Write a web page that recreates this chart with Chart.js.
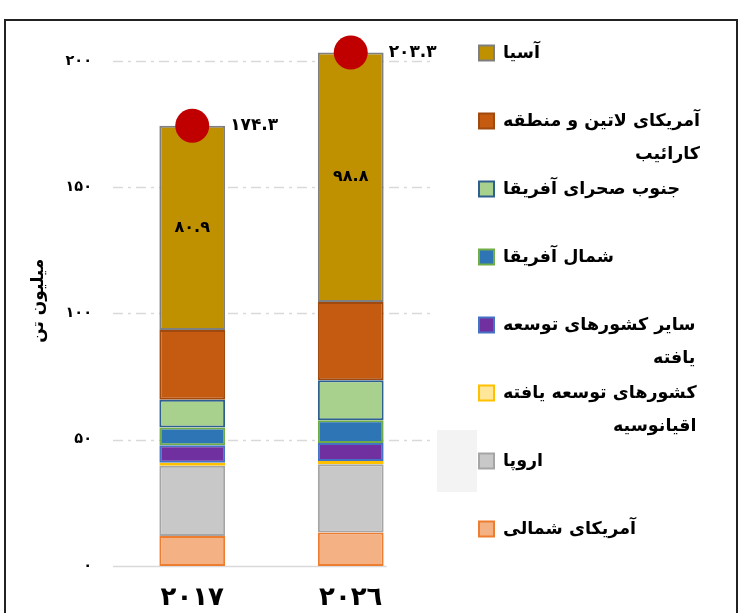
<!DOCTYPE html>
<html lang="fa">
<head>
<meta charset="utf-8">
<script src="https://cdn.jsdelivr.net/npm/chart.js@4.4.1/dist/chart.umd.min.js"></script>
<style>
  html, body { margin: 0; padding: 0; background: #fff; }
  #wrap { width: 740px; height: 613px; }
</style>
</head>
<body>
<div id="wrap"><canvas id="chart" width="740" height="613"></canvas></div>
<script>
// data (million tonnes)
const years = ['2017', '2026'];
const seriesNames = [
  'آمریکای شمالی',
  'اروپا',
  'کشورهای توسعه یافته اقیانوسیه',
  'سایر کشورهای توسعه یافته',
  'شمال آفریقا',
  'جنوب صحرای آفریقا',
  'آمریکای لاتین و منطقه کارائیب',
  'آسیا'
];
const northAmerica = [11.9, 13.3];
const europe = [27.8, 27.0];
const oceania = [1.2, 1.3];
const otherDeveloped = [6.9, 7.1];
const northAfrica = [7.0, 9.0];
const subSaharan = [11.0, 15.8];
const latinAmerica = [27.6, 31.0];
const asia = [80.9, 98.8];
const totals = [174.3, 203.3];
const yTicks = [0, 50, 100, 150, 200];

const FONT = '"DejaVu Sans", sans-serif';
const fa = s => String(s).replace(/[0-9]/g, d => '۰۱۲۳۴۵۶۷۸۹'[d]);
const ar = s => String(s).replace(/[0-9]/g, d => '٠١٢٣٤٥٦٧٨٩'[d]);

const fills = ['#F4B183', null, '#FFE699', '#7030A0', '#2E75B6', '#A9D18E', '#C55A11', '#BF9000'];
const borders = ['#ED7D31', '#A5A5A5', '#FFC000', '#4472C4', '#70AD47', '#2F5F8F', '#A04A10', '#7F7F7F'];
const values = [northAmerica, europe, oceania, otherDeveloped, northAfrica, subSaharan, latinAmerica, asia];

// grey gradient for europe
function europeFill(c) {
  const el = c.element;
  if (!c.chart.chartArea || !el || el.y === undefined) return '#C8C8C8';
  const g = c.chart.ctx.createLinearGradient(0, el.y, 0, el.base);
  g.addColorStop(0, '#D9D9D9');
  g.addColorStop(1, '#BDBDBD');
  return g;
}

const barSets = values.map((v, i) => ({
  label: seriesNames[i],
  data: v,
  backgroundColor: fills[i] || europeFill,
  borderColor: borders[i],
  borderWidth: 2,
  borderSkipped: false,
  barPercentage: 0.83,
  categoryPercentage: 0.5
}));

const frame = {
  id: 'frame',
  beforeDraw(chart) {
    const c = chart.ctx;
    c.save();
    c.fillStyle = '#f3f3f3';
    c.fillRect(437, 430, 40, 62);
    c.strokeStyle = '#222';
    c.lineWidth = 2;
    c.strokeRect(5, 20, 732, 620);
    c.restore();
  }
};

const gridLines = {
  id: 'gridLines',
  beforeDatasetsDraw(chart) {
    const c = chart.ctx, a = chart.chartArea, y = chart.scales.y;
    const last = chart.getDatasetMeta(0).data[1];
    c.save();
    c.strokeStyle = '#d9d9d9';
    c.lineWidth = 1.5;
    yTicks.forEach(v => {
      const py = Math.round(y.getPixelForValue(v)) + 0.5;
      c.setLineDash(v === 0 ? [] : [10, 5, 3, 5]);
      c.beginPath();
      c.moveTo(a.left, py);
      c.lineTo(v === 0 ? last.x + last.width / 2 + 3 : a.right, py);
      c.stroke();
    });
    c.restore();
  }
};

const valueLabels = {
  id: 'valueLabels',
  afterDatasetsDraw(chart) {
    const c = chart.ctx, y = chart.scales.y;
    const asiaMeta = chart.getDatasetMeta(7);
    c.save();
    c.fillStyle = '#000';
    c.textBaseline = 'middle';
    asiaMeta.data.forEach((el, i) => {
      c.font = 'bold 16px ' + FONT;
      c.textAlign = 'center';
      c.fillText(fa(asia[i].toFixed(1)), el.x, (el.y + el.base) / 2);
      c.font = 'bold 17px ' + FONT;
      c.textAlign = 'left';
      c.fillText(fa(totals[i].toFixed(1)), el.x + el.width / 2 + 5, y.getPixelForValue(totals[i]));
    });
    c.restore();
  }
};

const sideLegend = {
  id: 'sideLegend',
  afterDraw(chart) {
    const c = chart.ctx;
    const x0 = 479, textX = 503, maxW = 210, top = 53, pitch = 68, lh = 33;
    c.save();
    c.font = 'bold 17.5px ' + FONT;
    c.textBaseline = 'middle';
    c.direction = 'rtl';
    c.textAlign = 'right';
    for (let k = 0; k < seriesNames.length; k++) {
      const i = seriesNames.length - 1 - k;
      const cy = top + k * pitch;
      c.fillStyle = fills[i] || '#C8C8C8';
      c.fillRect(x0, cy - 7.5, 15, 15);
      c.strokeStyle = borders[i];
      c.lineWidth = 2;
      c.strokeRect(x0, cy - 7.5, 15, 15);
      // wrap words
      const words = seriesNames[i].split(' ');
      const lines = [];
      let cur = '';
      words.forEach(w => {
        const t = cur ? cur + ' ' + w : w;
        if (c.measureText(t).width > maxW && cur) { lines.push(cur); cur = w; } else cur = t;
      });
      lines.push(cur);
      const bw = Math.max(...lines.map(l => c.measureText(l).width));
      c.fillStyle = '#000';
      lines.forEach((l, j) => c.fillText(l, textX + bw, cy + j * lh));
    }
    c.restore();
  }
};

new Chart(document.getElementById('chart'), {
  type: 'bar',
  data: {
    labels: years,
    datasets: [
      ...barSets,
      {
        type: 'line',
        label: 'total',
        data: totals,
        stack: 'totals',
        showLine: false,
        pointRadius: 17,
        pointBackgroundColor: '#C00000',
        pointBorderWidth: 0,
        clip: false,
        order: -1
      }
    ]
  },
  options: {
    responsive: false,
    animation: false,
    layout: { padding: { left: 10, right: 310, top: 35.5, bottom: 0 } },
    plugins: { legend: { display: false }, tooltip: { enabled: false } },
    scales: {
      x: {
        stacked: true,
        grid: { display: false, drawTicks: false },
        border: { display: false },
        afterFit: s => { s.height = 47; },
        ticks: {
          color: '#000',
          padding: 17,
          font: { family: FONT, size: 26, weight: 'bold' },
          callback: (v, i) => ar(years[i])
        }
      },
      y: {
        stacked: true,
        min: 0,
        max: 210,
        grid: { display: false, drawTicks: false },
        border: { display: false },
        afterBuildTicks: s => { s.ticks = yTicks.map(v => ({ value: v })); },
        afterFit: s => { s.width = 103; },
        ticks: {
          color: '#000',
          padding: 21,
          font: { family: FONT, size: 14.5, weight: 'bold' },
          callback: v => fa(v)
        },
        title: {
          display: true,
          text: 'میلیون تن',
          color: '#000',
          font: { family: FONT, size: 17, weight: 'bold' },
          padding: { top: 18, bottom: 0 }
        }
      }
    }
  },
  plugins: [frame, gridLines, valueLabels, sideLegend]
});
</script>
</body>
</html>
